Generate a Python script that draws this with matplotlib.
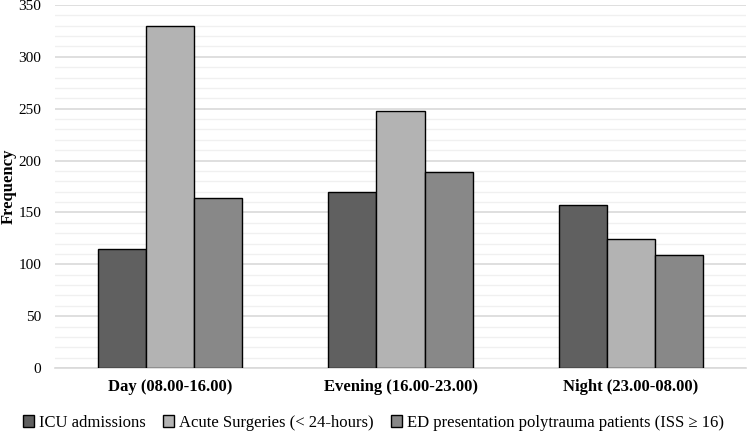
import matplotlib
matplotlib.use("Agg")
import matplotlib.pyplot as plt
import numpy as np

categories = ["Day (08.00-16.00)", "Evening (16.00-23.00)", "Night (23.00-08.00)"]
series_names = ["ICU admissions", "Acute Surgeries (< 24-hours)", "ED presentation polytrauma patients (ISS \u2265 16)"]
icu = [115, 170, 157]
acute = [330, 248, 124]
ed = [164, 189, 109]
colors = ["#606060", "#b3b3b3", "#888888"]

plt.rcParams['font.family'] = ['Liberation Serif', 'DejaVu Serif']

fig = plt.figure(figsize=(7.47, 4.33), dpi=100)
ax = fig.add_axes([55/747, 1-368/433, (746-55)/747, (368-5)/433])

x = np.arange(len(categories))
w = 0.209
for i, (vals, name, c) in enumerate(zip([icu, acute, ed], series_names, colors)):
    ax.bar(x + (i-1)*w, vals, w, color=c, edgecolor="black", linewidth=1.0, label=name, zorder=3)

ax.set_xlim(-0.5, 2.5)
ax.set_ylim(0, 350)
ax.set_yticks(np.arange(0, 351, 50))
ax.set_yticks(np.arange(0, 351, 10), minor=True)
ax.grid(axis='y', which='major', color='#d9d9d9', linewidth=1.2, zorder=0)
ax.grid(axis='y', which='minor', color='#f0f0f0', linewidth=1.0, zorder=0)
ax.tick_params(axis='y', which='both', length=0, labelsize=11, pad=10)
ax.tick_params(axis='x', length=0, pad=8)
ax.set_xticks(x)
ax.set_xticklabels(categories, fontsize=12, fontweight='bold')
for s in ['top', 'right', 'left']:
    ax.spines[s].set_visible(False)
ax.spines['bottom'].set_color('#d9d9d9')
ax.spines['bottom'].set_linewidth(1.2)
fig.text(8.5/747, 1-186/433, "Frequency", rotation=90, ha='center', va='center',
         fontsize=12, fontweight='bold')

fig.legend(loc='center', bbox_to_anchor=(0.5, 1-423/433), ncol=3, frameon=False,
           fontsize=12, handlelength=0.7, handleheight=0.7, handletextpad=0.3, columnspacing=1.0)

fig.savefig("out.png", dpi=100)
